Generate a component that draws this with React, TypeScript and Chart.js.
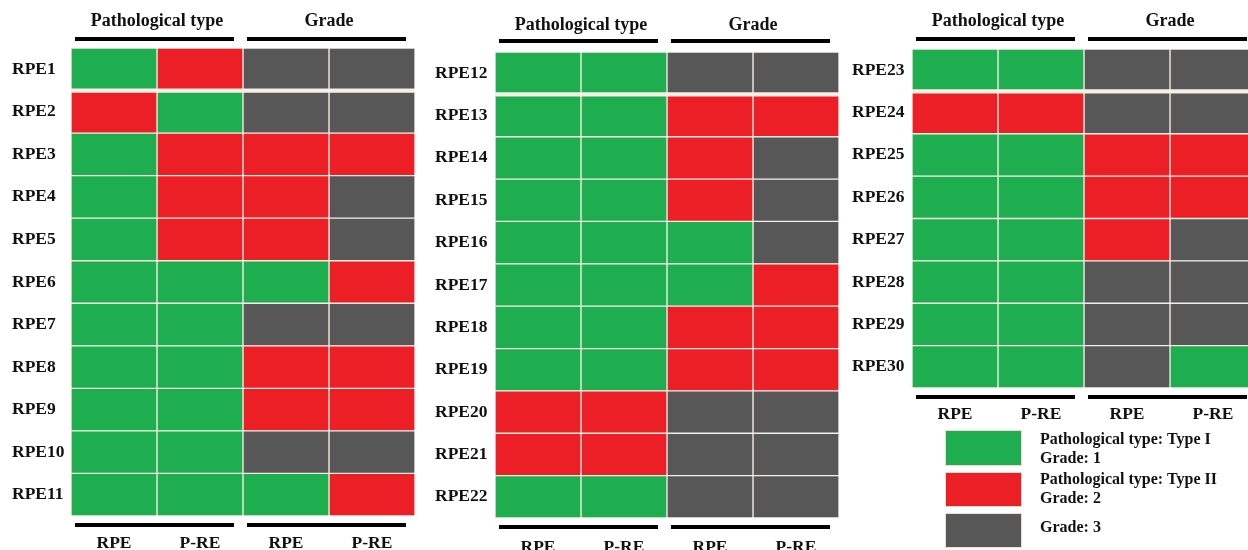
import React, { useEffect, useRef } from 'react';
import { Chart, registerables } from 'chart.js';

Chart.register(...registerables);

// ---------- DATA ----------
// Codes: 1 = Type I / Grade 1 (green), 2 = Type II / Grade 2 (red), 3 = Grade 3 (grey)
const COLUMN_LABELS = ['RPE', 'P-RE', 'RPE', 'P-RE'];
const GROUP_LABELS = ['Pathological type', 'Grade'];

const rowsA = ['RPE1', 'RPE2', 'RPE3', 'RPE4', 'RPE5', 'RPE6', 'RPE7', 'RPE8', 'RPE9', 'RPE10', 'RPE11'];
const pathRpeA = [1, 2, 1, 1, 1, 1, 1, 1, 1, 1, 1];
const pathPreA = [2, 1, 2, 2, 2, 1, 1, 1, 1, 1, 1];
const gradeRpeA = [3, 3, 2, 2, 2, 1, 3, 2, 2, 3, 1];
const gradePreA = [3, 3, 2, 3, 3, 2, 3, 2, 2, 3, 2];

const rowsB = ['RPE12', 'RPE13', 'RPE14', 'RPE15', 'RPE16', 'RPE17', 'RPE18', 'RPE19', 'RPE20', 'RPE21', 'RPE22'];
const pathRpeB = [1, 1, 1, 1, 1, 1, 1, 1, 2, 2, 1];
const pathPreB = [1, 1, 1, 1, 1, 1, 1, 1, 2, 2, 1];
const gradeRpeB = [3, 2, 2, 2, 1, 1, 2, 2, 3, 3, 3];
const gradePreB = [3, 2, 3, 3, 3, 2, 2, 2, 3, 3, 3];

const rowsC = ['RPE23', 'RPE24', 'RPE25', 'RPE26', 'RPE27', 'RPE28', 'RPE29', 'RPE30'];
const pathRpeC = [1, 2, 1, 1, 1, 1, 1, 1];
const pathPreC = [1, 2, 1, 1, 1, 1, 1, 1];
const gradeRpeC = [3, 3, 2, 2, 2, 3, 3, 3];
const gradePreC = [3, 3, 2, 2, 3, 3, 3, 1];

const legendCodes = [1, 2, 3];
const legendTexts = [
  ['Pathological type: Type I', 'Grade: 1'],
  ['Pathological type: Type II', 'Grade: 2'],
  ['Grade: 3'],
];

// ---------- STYLE ----------
const COLORS: Record<number, string> = { 1: '#1fae4f', 2: '#ec1f26', 3: '#575757' };
const CELL_BORDER = '#f6efe6';
const FONT_FAMILY = "'Liberation Serif', 'Times New Roman', serif";
const TEXT_COLOR = '#111111';

type PanelCfg = {
  left: number;
  width: number;
  rows: string[];
  cols: number[][];
  pad: { left: number; right: number; top: number; bottom: number };
  yW: number;
  topH: number;
  topPad: number;
  botH: number;
  botPad: number;
  topLineY: number;
  botLineY: number;
  legend?: boolean;
};

const panels: PanelCfg[] = [
  {
    left: 0, width: 420, rows: rowsA, cols: [pathRpeA, pathPreA, gradeRpeA, gradePreA],
    pad: { left: 12, right: 5, top: 0, bottom: 0 }, yW: 59, topH: 48, topPad: 16, botH: 34, botPad: 17,
    topLineY: 39, botLineY: 525,
  },
  {
    left: 420, width: 420, rows: rowsB, cols: [pathRpeB, pathPreB, gradeRpeB, gradePreB],
    pad: { left: 15, right: 1, top: 0, bottom: 0 }, yW: 60, topH: 52, topPad: 16, botH: 32, botPad: 19,
    topLineY: 41, botLineY: 527,
  },
  {
    left: 840, width: 420, rows: rowsC, cols: [pathRpeC, pathPreC, gradeRpeC, gradePreC],
    pad: { left: 12, right: 4, top: 0, bottom: 130 }, yW: 60, topH: 49, topPad: 17, botH: 32, botPad: 16,
    topLineY: 39, botLineY: 397, legend: true,
  },
];

const groupLinesPlugin = (cfg: PanelCfg) => ({
  id: 'groupLines',
  afterDraw(chart: any) {
    const { ctx } = chart;
    const x = chart.scales.x;
    const bounds = [
      [x.getPixelForValue(0), x.getPixelForValue(2)],
      [x.getPixelForValue(2), x.getPixelForValue(4)],
    ];
    ctx.save();
    ctx.strokeStyle = '#000';
    ctx.lineWidth = 4;
    bounds.forEach(([a, b]) => {
      [cfg.topLineY, cfg.botLineY].forEach((y) => {
        ctx.beginPath();
        ctx.moveTo(a + 4, y);
        ctx.lineTo(b - 9, y);
        ctx.stroke();
      });
    });
    ctx.restore();
  },
});

const legendPlugin = {
  id: 'customLegend',
  afterDraw(chart: any) {
    const { ctx } = chart;
    const boxes = [
      { y: 430, h: 36 },
      { y: 472, h: 35 },
      { y: 513, h: 35 },
    ];
    const textY = [[440, 459], [480, 499], [528]];
    ctx.save();
    legendCodes.forEach((code, i) => {
      ctx.fillStyle = COLORS[code];
      ctx.fillRect(105, boxes[i].y, 77, boxes[i].h);
      ctx.strokeStyle = '#eedcd0';
      ctx.lineWidth = 1;
      ctx.strokeRect(105.5, boxes[i].y + 0.5, 76, boxes[i].h - 1);
      ctx.fillStyle = TEXT_COLOR;
      ctx.font = `bold 16px ${FONT_FAMILY}`;
      ctx.textAlign = 'left';
      ctx.textBaseline = 'middle';
      legendTexts[i].forEach((t, j) => ctx.fillText(t, 200, textY[i][j]));
    });
    ctx.restore();
  },
};

function Panel({ cfg }: { cfg: PanelCfg }) {
  const ref = useRef<HTMLCanvasElement>(null);
  useEffect(() => {
    if (!ref.current) return;
    const font = { family: FONT_FAMILY, size: 17.5, weight: 'bold' as const };
    const headFont = { family: FONT_FAMILY, size: 18, weight: 'bold' as const };
    const chart = new Chart(ref.current, {
      type: 'bar',
      data: {
        labels: cfg.rows,
        datasets: cfg.cols.map((codes, i) => ({
          label: COLUMN_LABELS[i],
          data: codes.map(() => 1),
          backgroundColor: codes.map((c) => COLORS[c]),
          borderColor: CELL_BORDER,
          borderWidth: (ctx: any) => ({
            left: 1,
            right: 1,
            top: ctx.dataIndex === 1 ? 2.5 : 1,
            bottom: ctx.dataIndex === 0 ? 2.5 : 1,
          }),
          borderSkipped: false,
          barPercentage: 1,
          categoryPercentage: 1,
        })) as any,
      },
      options: {
        indexAxis: 'y',
        animation: false,
        responsive: false,
        maintainAspectRatio: false,
        layout: { padding: cfg.pad },
        plugins: { legend: { display: false }, tooltip: { enabled: false } },
        scales: {
          x: { type: 'linear', stacked: true, min: 0, max: 4, display: false },
          y: {
            type: 'category',
            stacked: true,
            position: 'left',
            grid: { display: false, drawTicks: false },
            border: { display: false },
            ticks: { font, color: TEXT_COLOR, crossAlign: 'far', padding: 0 },
            afterFit: (s: any) => { s.width = cfg.yW; },
          },
          xTop: {
            type: 'category',
            labels: GROUP_LABELS,
            position: 'top',
            offset: true,
            grid: { display: false, drawTicks: false },
            border: { display: false },
            ticks: { font: headFont, color: TEXT_COLOR, padding: cfg.topPad, maxRotation: 0, autoSkip: false },
            afterFit: (s: any) => { s.height = cfg.topH; },
          },
          xBottom: {
            type: 'category',
            labels: COLUMN_LABELS,
            position: 'bottom',
            offset: true,
            grid: { display: false, drawTicks: false },
            border: { display: false },
            ticks: { font, color: TEXT_COLOR, padding: cfg.botPad, maxRotation: 0, autoSkip: false },
            afterFit: (s: any) => { s.height = cfg.botH; },
          },
        } as any,
      },
      plugins: cfg.legend ? [groupLinesPlugin(cfg), legendPlugin] : [groupLinesPlugin(cfg)],
    });
    return () => chart.destroy();
  }, [cfg]);
  return (
    <canvas
      ref={ref}
      width={cfg.width}
      height={550}
      style={{ position: 'absolute', left: cfg.left, top: 0, width: cfg.width, height: 550 }}
    />
  );
}

export default function App() {
  return (
    <div
      style={{
        position: 'absolute',
        left: 0,
        top: 0,
        width: 1248,
        height: 550,
        overflow: 'hidden',
        background: '#ffffff',
      }}
    >
      {panels.map((p, i) => (
        <Panel key={i} cfg={p} />
      ))}
    </div>
  );
}
